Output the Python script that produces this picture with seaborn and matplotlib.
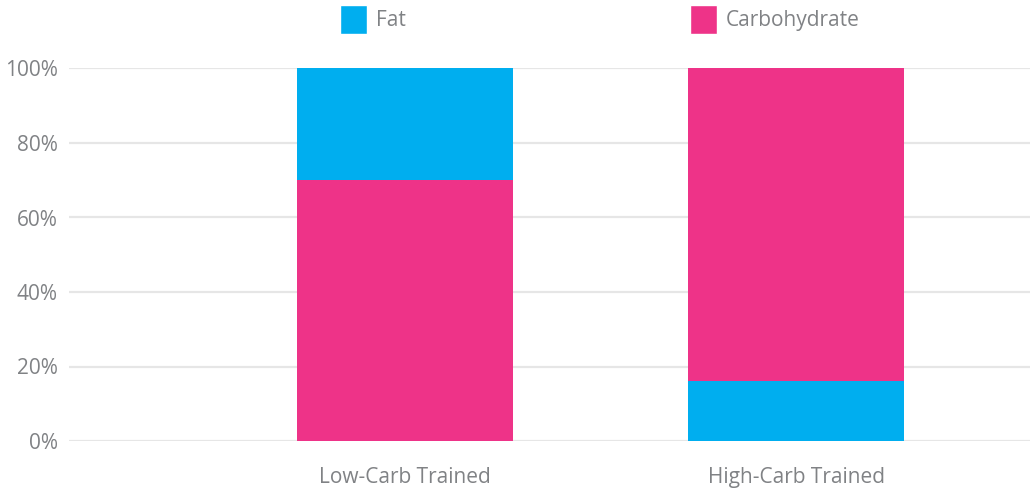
import seaborn as sns
import matplotlib.pyplot as plt
import pandas as pd
from matplotlib.patches import Patch

# data (percent of energy)
groups = ["Low-Carb Trained", "High-Carb Trained"]
fat = [30, 16]
carbohydrate = [70, 84]
yticks = [0, 20, 40, 60, 80, 100]

FAT_COLOR = "#00AEEF"
CARB_COLOR = "#EE3388"
TEXT_COLOR = "#808285"

# low-carb bar stacks carbs first, high-carb bar stacks fat first
bottom_part = ["Carbohydrate", "Fat"]
rows_top, rows_bottom = [], []
for g, f, c, b in zip(groups, fat, carbohydrate, bottom_part):
    if b == "Carbohydrate":
        rows_bottom.append({"group": g, "nutrient": "Carbohydrate", "value": c})
        rows_top.append({"group": g, "nutrient": "Fat", "value": c + f})
    else:
        rows_bottom.append({"group": g, "nutrient": "Fat", "value": f})
        rows_top.append({"group": g, "nutrient": "Carbohydrate", "value": c + f})
top_df = pd.DataFrame(rows_top)
bottom_df = pd.DataFrame(rows_bottom)

sns.set_style("white")
plt.rcParams["font.family"] = ["Open Sans", "DejaVu Sans"]

fig = plt.figure(figsize=(10.3, 4.9), dpi=100)
ax = fig.add_axes([69 / 1030, 0.1, 1 - 69 / 1030, 372.5 / 490])

palette = {"Fat": FAT_COLOR, "Carbohydrate": CARB_COLOR}
for d in (top_df, bottom_df):
    sns.barplot(data=d, x="group", y="value", hue="nutrient", order=groups,
                palette=palette, dodge=False, width=0.552, saturation=1,
                linewidth=0, legend=False, ax=ax, zorder=3)

ax.set_xlim(-0.859, 1.598)
ax.set_ylim(0, 100)
ax.set_yticks(yticks)
ax.set_yticklabels([f"{t}%" for t in yticks])
ax.yaxis.grid(True, color="#E6E6E6", linewidth=1.6, zorder=0)
ax.xaxis.grid(False)
ax.set_axisbelow(True)
ax.set_xlabel("")
ax.set_ylabel("")
for s in ax.spines.values():
    s.set_visible(False)
ax.tick_params(axis="y", length=0, pad=8, labelsize=15, labelcolor=TEXT_COLOR)
ax.tick_params(axis="x", length=0, pad=19, labelsize=15, labelcolor=TEXT_COLOR)

handles = [Patch(facecolor=FAT_COLOR, label="Fat"),
           Patch(facecolor=CARB_COLOR, label="Carbohydrate")]
fig.legend(handles=handles, loc="upper left", bbox_to_anchor=(340 / 1030, 1 - 5 / 490),
           ncol=2, frameon=False, fontsize=15, labelcolor=TEXT_COLOR,
           handlelength=1.3, handleheight=1.76, handletextpad=0.45,
           columnspacing=13.6, borderpad=0, borderaxespad=0)

fig.savefig("out.png", dpi=100)
plt.close(fig)
